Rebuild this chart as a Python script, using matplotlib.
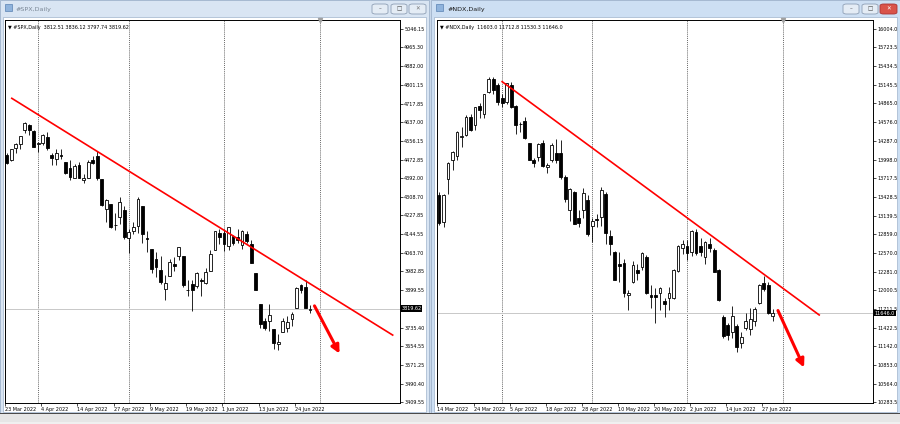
import numpy as np
import matplotlib
matplotlib.use('Agg')
import matplotlib.pyplot as plt
from matplotlib.patches import Rectangle, FancyBboxPatch

W, H = 900, 424

# #SPX daily, 23 Mar 2022 .. 29 Jun 2022
spx_open = [4493.10, 4469.98, 4522.91, 4541.09, 4602.86, 4624.20, 4599.02, 4540.32, 4547.97, 4572.45,
            4494.17, 4474.65, 4494.15, 4462.64, 4437.59, 4394.30, 4449.12, 4385.63, 4390.63, 4472.26,
            4489.17, 4385.83, 4255.34, 4278.14, 4186.52, 4222.58, 4253.75, 4130.61, 4159.78, 4181.18,
            4270.43, 4128.17, 4081.27, 4035.18, 3990.08, 3903.95, 3963.90, 4013.02, 4052.00, 4051.98,
            3899.00, 3927.76, 3919.42, 3942.94, 3929.59, 3984.60, 4077.43, 4151.09, 4149.78, 4095.41,
            4137.57, 4134.72, 4096.47, 4147.12, 4101.65, 3974.39, 3838.15, 3763.52, 3764.05, 3728.18,
            3665.90, 3715.31, 3733.89, 3774.71, 3821.75, 3920.76, 3913.00, 3812.51]
spx_high = [4501.07, 4520.58, 4546.03, 4575.65, 4637.30, 4627.77, 4603.07, 4548.70, 4583.50, 4593.45,
            4503.94, 4521.16, 4520.41, 4464.35, 4471.00, 4453.92, 4460.46, 4410.31, 4471.03, 4488.29,
            4512.94, 4385.83, 4299.02, 4278.14, 4240.71, 4308.45, 4269.68, 4169.81, 4200.10, 4307.66,
            4270.43, 4157.69, 4081.27, 4068.82, 4049.09, 3964.80, 4038.88, 4046.46, 4090.72, 4051.98,
            3945.96, 3943.42, 3981.88, 3955.68, 3999.33, 4075.14, 4158.49, 4168.34, 4166.54, 4177.51,
            4142.67, 4168.78, 4164.86, 4160.14, 4119.10, 3974.39, 3838.15, 3778.18, 3837.56, 3728.18,
            3707.71, 3779.65, 3785.99, 3802.58, 3913.65, 3927.72, 3945.86, 3836.12]
spx_low = [4455.81, 4465.17, 4501.07, 4517.69, 4589.66, 4581.32, 4530.41, 4507.57, 4539.21, 4514.17,
           4450.04, 4450.30, 4474.60, 4408.38, 4381.34, 4392.70, 4390.77, 4370.30, 4390.63, 4452.68,
           4384.47, 4267.62, 4200.82, 4175.04, 4162.90, 4188.63, 4124.28, 4062.51, 4147.08, 4148.91,
           4106.01, 4067.91, 3975.48, 3958.17, 3928.82, 3858.87, 3963.90, 3983.99, 4033.93, 3911.91,
           3876.58, 3810.32, 3909.04, 3875.13, 3925.03, 3984.60, 4077.43, 4104.88, 4073.85, 4074.37,
           4098.67, 4109.18, 4080.19, 4107.20, 4017.17, 3900.16, 3734.30, 3724.55, 3722.30, 3639.77,
           3636.87, 3715.31, 3717.69, 3743.52, 3821.75, 3889.66, 3820.14, 3797.74]
spx_close = [4456.24, 4520.16, 4543.06, 4575.52, 4631.60, 4602.45, 4530.41, 4545.86, 4582.64, 4525.12,
             4481.15, 4500.21, 4488.28, 4412.53, 4397.45, 4446.59, 4392.59, 4391.69, 4462.21, 4459.45,
             4393.66, 4271.78, 4296.12, 4175.20, 4183.96, 4287.50, 4131.93, 4155.38, 4175.48, 4300.17,
             4146.87, 4123.34, 3991.24, 4001.05, 3935.18, 3930.08, 4023.89, 4008.01, 4088.85, 3923.68,
             3900.79, 3901.36, 3973.75, 3941.48, 3978.73, 4057.84, 4158.24, 4132.15, 4101.23, 4176.82,
             4108.54, 4121.43, 4160.68, 4115.77, 4017.82, 3900.86, 3749.63, 3735.48, 3789.99, 3666.77,
             3674.84, 3764.79, 3759.89, 3795.73, 3911.74, 3900.11, 3821.55, 3819.62]

# #NDX daily, 14 Mar 2022 .. 29 Jun 2022
ndx_open = [13455, 13050, 13700, 13990, 14050, 14350, 14380, 14660, 14530, 14820,
            14700, 15030, 15230, 15140, 14950, 14890, 15150, 14830, 14550, 14600,
            14250, 13990, 14046, 14260, 13880, 13995, 14100, 14100, 13740, 13230,
            13500, 13100, 13230, 13380, 12975, 13090, 13125, 13480, 12830, 12590,
            12400, 12420, 11930, 12130, 12300, 12350, 12510, 11920, 11920, 11950,
            11830, 11870, 11880, 12290, 12650, 12670, 12590, 12890, 12670, 12510,
            12700, 12610, 12300, 11590, 11470, 11360, 11450, 11190, 11410, 11400,
            11530, 11800, 12100, 12070, 11603.0]
ndx_high = [13510, 13470, 13970, 14125, 14440, 14500, 14690, 14700, 14805, 14870,
            15010, 15265, 15270, 15170, 15000, 15180, 15190, 14840, 14580, 14650,
            14260, 14020, 14250, 14300, 13950, 14260, 14310, 14300, 13770, 13560,
            13520, 13220, 13560, 13460, 13100, 13170, 13580, 13500, 12920, 12600,
            12590, 12480, 12000, 12450, 12400, 12590, 12530, 12080, 12030, 12050,
            11880, 12040, 12320, 12690, 12770, 12770, 12920, 12930, 12800, 12750,
            12800, 12650, 12330, 11620, 11500, 11750, 11480, 11360, 11640, 11720,
            11740, 12090, 12215, 12120, 11712.8]
ndx_low = [12990, 12970, 13480, 13840, 14000, 14200, 14370, 14440, 14460, 14640,
           14640, 15020, 15010, 14838, 14800, 14860, 14790, 14400, 14430, 14320,
           13990, 13890, 13980, 13890, 13790, 13960, 13950, 13700, 13350, 13060,
           13010, 12960, 13100, 12830, 12730, 12970, 12980, 12700, 12540, 12150,
           12120, 11900, 11700, 12100, 12150, 12300, 11940, 11720, 11490, 11700,
           11590, 11700, 11860, 12280, 12550, 12460, 12520, 12540, 12520, 12400,
           12580, 12270, 11830, 11260, 11230, 11260, 11045, 11105, 11380, 11310,
           11450, 11790, 11990, 11630, 11530.3]
ndx_close = [13030, 13460, 13956, 14119, 14421, 14370, 14655, 14455, 14800, 14766,
             15003, 15239, 15065, 14880, 14870, 15173, 14812, 14530, 14540, 14330,
             13995, 13947, 14240, 13900, 13921, 14225, 14000, 13740, 13392, 13548,
             13012, 13022, 13485, 12855, 13065, 13080, 13536, 12870, 12700, 12160,
             12370, 11950, 11960, 12390, 12260, 12565, 11950, 11900, 11900, 12030,
             11790, 11950, 12300, 12680, 12700, 12570, 12900, 12565, 12590, 12740,
             12640, 12280, 11840, 11290, 11310, 11600, 11130, 11285, 11520, 11550,
             11715, 12075, 12010, 11640, 11646.0]

spx_ticks = [5046.15, 4965.30, 4882.00, 4801.15, 4717.85, 4637.00, 4556.15, 4472.85, 4392.00, 4308.70,
             4227.85, 4144.55, 4063.70, 3982.85, 3899.55, 3735.40, 3654.55, 3571.25, 3490.40, 3409.55]
ndx_ticks = [16004.0, 15723.5, 15434.5, 15145.5, 14865.0, 14576.0, 14287.0, 13998.0, 13717.5, 13428.5,
             13139.5, 12859.0, 12570.0, 12281.0, 12000.5, 11711.5, 11422.5, 11142.0, 10853.0, 10564.0,
             10283.5]
spx_dates = ['23 Mar 2022', '4 Apr 2022', '14 Apr 2022', '27 Apr 2022', '9 May 2022',
             '19 May 2022', '1 Jun 2022', '13 Jun 2022', '24 Jun 2022']
ndx_dates = ['14 Mar 2022', '24 Mar 2022', '5 Apr 2022', '18 Apr 2022', '28 Apr 2022', '10 May 2022',
             '20 May 2022', '2 Jun 2022', '14 Jun 2022', '27 Jun 2022']
spx_seps = [7, 27, 48, 69.2]
ndx_seps = [14, 34, 55, 76.3]

# trend lines / arrows (bar index, price)
spx_trend = [(1.15, 4742), (85.25, 3703)]
spx_arrow = [(67.7, 3842), (73.8, 3611)]
ndx_trend = [(14.0, 15196), (84.3, 11617)]
ndx_arrow = [(74.9, 11724), (81.2, 10773)]

fs = 3.5
fig = plt.figure(figsize=(9, 4.24), dpi=100)
fig.patch.set_facecolor('#c9d8ea')


def px_rect(x, y, w, h, **kw):
    fig.add_artist(Rectangle((x / W, 1 - (y + h) / H), w / W, h / H,
                             transform=fig.transFigure, zorder=-5, **kw))


def px_text(x, y, s, **kw):
    fig.text(x / W, 1 - y / H, s, **kw)


def button(x, y, w, h, fc, ec='#8e9fb5'):
    fig.add_artist(FancyBboxPatch((x / W, 1 - (y + h) / H), w / W, h / H,
                                  boxstyle='round,pad=0,rounding_size=0.004',
                                  transform=fig.transFigure, fc=fc, ec=ec, lw=0.6, zorder=-4))


# windows
for x0, x1, active, title in [(0, 429, False, '#SPX,Daily'), (431, 900, True, '#NDX,Daily')]:
    px_rect(x0, 0, x1 - x0, 413, fc='#d9e5f3' if not active else '#cddff3', ec='#9fb3cc', lw=0.6)
    px_rect(x0 + 3, 17, x1 - x0 - 6, 395, fc='white', ec='#9fb3cc', lw=0.5)
    px_rect(x0 + 5, 4, 7, 7, fc='#8fb3dc', ec='#5b82b3', lw=0.5)
    px_text(x0 + 16, 9, title, fontsize=4.6, va='center', color='#7a8796' if not active else '#1a1a1a')
    button(x1 - 57, 4, 16, 10, '#e4ecf5')
    button(x1 - 38, 4, 16, 10, '#e4ecf5')
    button(x1 - 20, 4, 17, 10, '#d9534a' if active else '#e4ecf5', ec='#a33' if active else '#8e9fb5')
    px_text(x1 - 49, 9, '\u2013', fontsize=4, ha='center', va='center', color='#444')
    px_text(x1 - 30, 9, '\u25a1', fontsize=4, ha='center', va='center', color='#444')
    px_text(x1 - 11.5, 9, '\u2715', fontsize=4, ha='center', va='center',
            color='white' if active else '#777')

px_rect(0, 413, 900, 11, fc='#e6e6e6', ec='none')
px_rect(0, 413, 900, 1.2, fc='#4a4a4a', ec='none')
px_rect(0, 422, 900, 2, fc='#f0f0f0', ec='none')


def draw_chart(box, o, h, l, c, bar0, step, ylim, ticks, dates, seps, trend, arrow, header, last, shift):
    x0, y0, x1, y1 = box
    ax = fig.add_axes([x0 / W, 1 - y1 / H, (x1 - x0) / W, (y1 - y0) / H])
    ax.set_zorder(2)
    ax.patch.set_facecolor('white')
    ax.set_xlim((x0 - bar0) / step, (x1 - bar0) / step)
    ax.set_ylim(*ylim)
    o, h, l, c = map(np.asarray, (o, h, l, c))
    idx = np.arange(len(o))
    up = c >= o
    ax.vlines(idx, l, h, color='black', lw=0.6, zorder=3)
    ax.bar(idx, np.abs(c - o), bottom=np.minimum(o, c), width=0.62,
           color=np.where(up, 'white', 'black'), edgecolor='black', lw=0.6, zorder=4)
    for s in seps:
        ax.axvline(s, color='#333333', lw=0.5, ls=(0, (1.5, 1.5)), zorder=1)
    ax.axhline(last, color='#c8c8c8', lw=0.7, zorder=2)
    ax.plot([p[0] for p in trend], [p[1] for p in trend], color='#ff0000', lw=1.2, zorder=5)
    ax.annotate('', xy=arrow[1], xytext=arrow[0],
                arrowprops=dict(arrowstyle='-|>,head_length=0.6,head_width=0.3',
                                color='#ff0000', lw=2.2, mutation_scale=8), zorder=6)
    ax.plot([shift], [1], marker='v', ms=3, color='#a0a0a0', transform=ax.get_xaxis_transform(),
            clip_on=False, zorder=6)

    ax.yaxis.tick_right()
    ax.set_yticks(ticks)
    ax.set_yticklabels(['%.2f' % t if t < 10000 else '%.1f' % t for t in ticks])
    ax.tick_params(axis='y', labelsize=fs, length=2, width=0.5, pad=1)
    ax.set_xticks([i * 8 - 0.35 for i in range(len(dates))])
    ax.set_xticklabels(dates, ha='left')
    ax.tick_params(axis='x', labelsize=fs, length=2, width=0.5, pad=1)
    for sp in ax.spines.values():
        sp.set_linewidth(0.7)
    ax.text(1.004, last, ('%.2f' % last) if last < 10000 else ('%.1f' % last),
            transform=ax.get_yaxis_transform(), ha='left', va='center', fontsize=fs,
            color='white', bbox=dict(fc='black', ec='none', pad=0.5), zorder=7, clip_on=False)
    ax.text(0.008, 0.985, header, transform=ax.transAxes, ha='left', va='top', fontsize=fs)
    return ax


draw_chart((5, 19.5, 400, 403), spx_open, spx_high, spx_low, spx_close, 6.5, 4.53,
           (3405.0, 5087.8), spx_ticks, spx_dates, spx_seps, spx_trend, spx_arrow,
           '\u25bc #SPX,Daily  3812.51 3836.12 3797.74 3819.62', 3819.62, 69.2)
draw_chart((437, 19.5, 873, 403), ndx_open, ndx_high, ndx_low, ndx_close, 439, 4.51,
           (10266.8, 16149.7), ndx_ticks, ndx_dates, ndx_seps, ndx_trend, ndx_arrow,
           '\u25bc #NDX,Daily  11603.0 11712.8 11530.3 11646.0', 11646.0, 76.3)

fig.savefig('out.png', dpi=100, facecolor=fig.get_facecolor())
